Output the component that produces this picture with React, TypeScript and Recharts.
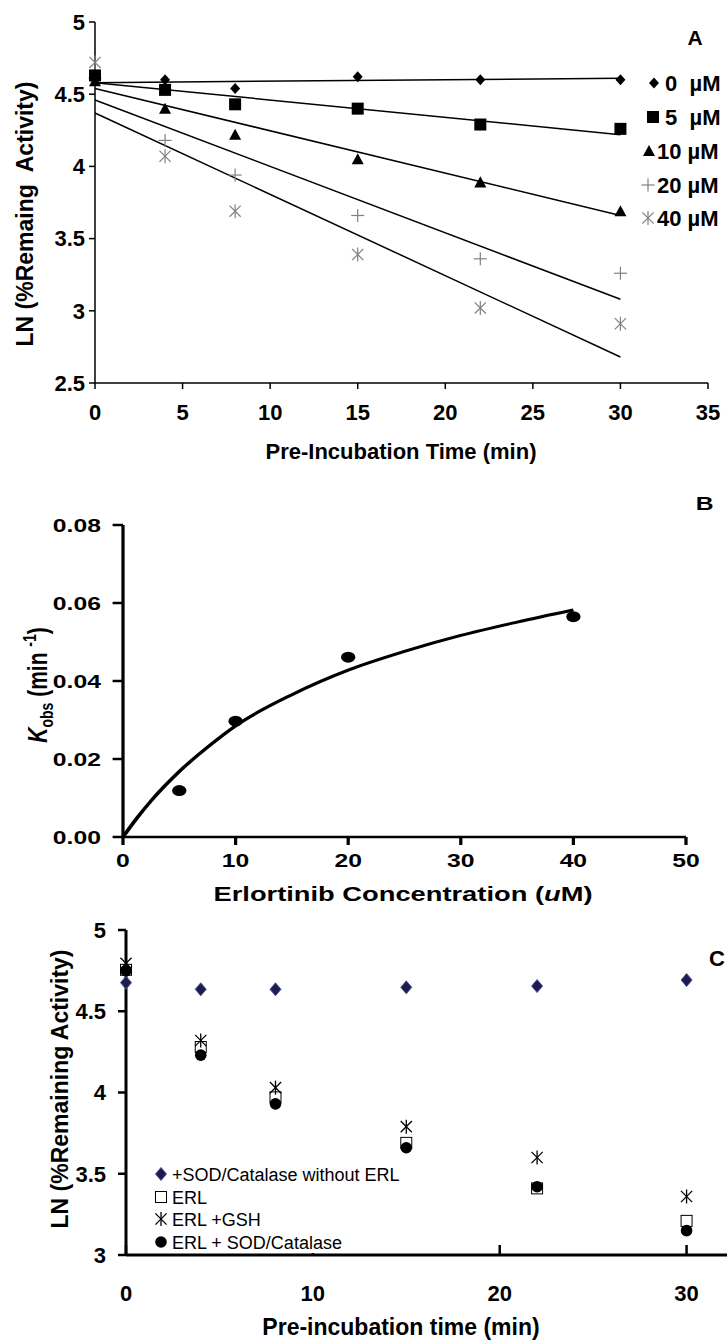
import React from 'react';
import { ComposedChart, Label, Line, Scatter, XAxis, YAxis } from 'recharts';

const FONT = '"Liberation Sans", Arial, Helvetica, sans-serif';

// Panel A: LN(% remaining activity) vs pre-incubation time, per erlotinib concentration
const timeA = [0, 4, 8, 15, 22, 30];
const act0uM = [4.6, 4.6, 4.54, 4.62, 4.6, 4.6];
const act5uM = [4.63, 4.53, 4.43, 4.4, 4.29, 4.26];
const act10uM = [4.59, 4.4, 4.22, 4.05, 3.89, 3.69];
const act20uM = [4.61, 4.18, 3.94, 3.66, 3.36, 3.26];
const act40uM = [4.72, 4.07, 3.69, 3.39, 3.02, 2.91];

// regression lines (ends)
const fitTimeA = [0, 30];
const fit0uM = [4.58, 4.61];
const fit5uM = [4.58, 4.22];
const fit10uM = [4.54, 3.66];
const fit20uM = [4.46, 3.08];
const fit40uM = [4.37, 2.68];

const ticksAx = [0, 5, 10, 15, 20, 25, 30, 35];
const ticksAy = [2.5, 3, 3.5, 4, 4.5, 5];
const legendA = ['0  µM', '5  µM', '10 µM', '20 µM', '40 µM'];

// Panel B: kobs vs erlotinib concentration
const concB = [5, 10, 20, 40];
const kobsB = [0.0119, 0.0297, 0.0461, 0.0565];
const curveConcB = [0, 1.25, 2.5, 5, 7.5, 10, 15, 20, 25, 30, 35, 40];
const curveKobsB = [0, 0.0049, 0.0093, 0.0168, 0.023, 0.0285, 0.0365, 0.0428, 0.0476, 0.0517, 0.0551, 0.0582];
const ticksBx = [0, 10, 20, 30, 40, 50];
const ticksBy = [0, 0.02, 0.04, 0.06, 0.08];

// Panel C: effect of GSH / SOD-catalase
const timeC = [0, 4, 8, 15, 22, 30];
const sodNoErl = [4.676, 4.635, 4.635, 4.647, 4.655, 4.692];
const erl = [4.755, 4.28, 3.97, 3.69, 3.41, 3.21];
const erlGsh = [4.795, 4.32, 4.03, 3.79, 3.6, 3.36];
const erlSod = [4.75, 4.23, 3.93, 3.66, 3.42, 3.15];
const ticksCx = [0, 10, 20, 30];
const ticksCy = [3, 3.5, 4, 4.5, 5];
const legendC = ['+SOD/Catalase without ERL', 'ERL', 'ERL +GSH', 'ERL + SOD/Catalase'];

const pts = (xs: number[], ys: number[]) => xs.map((x, i) => ({ x, y: ys[i] }));

const GRAY = '#808080';
const NAVY = '#1c1c4e';

// marker drawing
const diamond = (cx: number, cy: number, w: number, h: number, fill: string, stroke = 'none') => (
  <polygon points={`${cx},${cy - h} ${cx + w},${cy} ${cx},${cy + h} ${cx - w},${cy}`} fill={fill} stroke={stroke} />
);
const square = (cx: number, cy: number, s: number, fill: string, stroke = 'none') => (
  <rect x={cx - s} y={cy - s} width={s * 2} height={s * 2} fill={fill} stroke={stroke} />
);
const triangle = (cx: number, cy: number, s: number) => (
  <polygon points={`${cx},${cy - s} ${cx + s},${cy + s * 0.85} ${cx - s},${cy + s * 0.85}`} fill="#000" />
);
const plus = (cx: number, cy: number, s: number, color: string) => (
  <g stroke={color} strokeWidth={1.2}>
    <line x1={cx - s} x2={cx + s} y1={cy} y2={cy} />
    <line x1={cx} x2={cx} y1={cy - s} y2={cy + s} />
  </g>
);
const star = (cx: number, cy: number, s: number, color: string, w = 1.2) => (
  <g stroke={color} strokeWidth={w}>
    <line x1={cx - s * 0.8} x2={cx + s * 0.8} y1={cy - s * 0.8} y2={cy + s * 0.8} />
    <line x1={cx - s * 0.8} x2={cx + s * 0.8} y1={cy + s * 0.8} y2={cy - s * 0.8} />
    <line x1={cx} x2={cx} y1={cy - s} y2={cy + s} />
  </g>
);

const tickStyle = (size: number) => ({ fill: '#000', fontSize: size, fontWeight: 700, fontFamily: FONT });
const titleStyle = (size: number, weight = 700): React.CSSProperties => ({
  fontSize: size,
  fontWeight: weight,
  fontFamily: FONT,
  fill: '#000',
  whiteSpace: 'pre',
});

const PanelA = () => {
  const axis = { stroke: '#000', strokeWidth: 1.5 };
  const markersA = [
    (cx: number, cy: number) => diamond(cx, cy, 5, 5.5, '#000'),
    (cx: number, cy: number) => square(cx, cy, 6, '#000'),
    (cx: number, cy: number) => triangle(cx, cy, 6),
    (cx: number, cy: number) => plus(cx, cy, 6.5, GRAY),
    (cx: number, cy: number) => star(cx, cy, 7, GRAY),
  ];
  const legendY = [83, 117, 151, 185, 218];
  const legendMarkX = [654, 653, 649, 648, 648];
  const legendTextX = [665, 665, 657, 657, 657];
  return (
    <div style={{ position: 'absolute', left: 0, top: 0, width: 727, height: 470 }}>
      <ComposedChart width={727} height={470} margin={{ top: 22, right: 19, bottom: 0, left: 0 }}>
        <XAxis
          type="number"
          dataKey="x"
          domain={[0, 35]}
          ticks={ticksAx}
          interval={0}
          height={87}
          tickSize={6}
          tickMargin={15}
          axisLine={axis}
          tickLine={axis}
          tick={tickStyle(22)}
        >
          <Label
            content={() => (
              <text x={401} y={459} textAnchor="middle" style={titleStyle(22)}>
                Pre-Incubation Time (min)
              </text>
            )}
          />
        </XAxis>
        <YAxis
          type="number"
          dataKey="y"
          domain={[2.5, 5]}
          ticks={ticksAy}
          interval={0}
          width={95}
          tickSize={6}
          tickMargin={4}
          axisLine={axis}
          tickLine={axis}
          tick={tickStyle(22)}
        >
          <Label
            content={() => (
              <text transform="translate(25,214) rotate(-90)" y={8} textAnchor="middle" style={titleStyle(23)}>
                LN (%Remaing  Activity)
              </text>
            )}
          />
        </YAxis>
        {[fit0uM, fit5uM, fit10uM, fit20uM, fit40uM].map((f, i) => (
          <Line
            key={'fit' + i}
            data={pts(fitTimeA, f)}
            dataKey="y"
            type="linear"
            stroke="#000"
            strokeWidth={1.5}
            dot={false}
            activeDot={false}
            isAnimationActive={false}
          />
        ))}
        <Scatter data={pts(timeA, act40uM)} dataKey="y" isAnimationActive={false} shape={(p: any) => markersA[4](p.cx, p.cy)} />
        <Scatter data={pts(timeA, act20uM)} dataKey="y" isAnimationActive={false} shape={(p: any) => markersA[3](p.cx, p.cy)} />
        <Scatter data={pts(timeA, act10uM)} dataKey="y" isAnimationActive={false} shape={(p: any) => markersA[2](p.cx, p.cy)} />
        <Scatter data={pts(timeA, act0uM)} dataKey="y" isAnimationActive={false} shape={(p: any) => markersA[0](p.cx, p.cy)} />
        <Scatter data={pts(timeA, act5uM)} dataKey="y" isAnimationActive={false} shape={(p: any) => markersA[1](p.cx, p.cy)} />
      </ComposedChart>
      <svg width={727} height={470} style={{ position: 'absolute', left: 0, top: 0, pointerEvents: 'none' }}>
        <text x={695} y={45} textAnchor="middle" style={titleStyle(21)}>
          A
        </text>
        {legendA.map((name, i) => (
          <g key={name}>
            {markersA[i](legendMarkX[i], legendY[i])}
            <text x={legendTextX[i]} y={legendY[i] + 8} style={titleStyle(22)}>
              {name}
            </text>
          </g>
        ))}
      </svg>
    </div>
  );
};

// panel B is horizontally stretched in the source figure
const SB = 1.3;
const BW = 727 / SB;

const PanelB = () => {
  const axis = { stroke: '#000', strokeWidth: 2.5 };
  return (
    <div
      style={{
        position: 'absolute',
        left: 0,
        top: 460,
        width: BW,
        height: 470,
        transform: `scaleX(${SB})`,
        transformOrigin: '0 0',
      }}
    >
      <ComposedChart width={BW} height={470} margin={{ top: 65, right: BW - 686 / SB, bottom: 0, left: 0 }}>
        <XAxis
          type="number"
          dataKey="x"
          domain={[0, 50]}
          ticks={ticksBx}
          interval={0}
          height={93}
          tickSize={8}
          tickMargin={9}
          axisLine={axis}
          tickLine={axis}
          tick={tickStyle(19)}
        >
          <Label
            content={() => (
              <text x={310} y={441} textAnchor="middle" style={titleStyle(21)}>
                Erlortinib Concentration (<tspan fontStyle="italic">u</tspan>M)
              </text>
            )}
          />
        </XAxis>
        <YAxis
          type="number"
          dataKey="y"
          domain={[0, 0.08]}
          ticks={ticksBy}
          interval={0}
          width={123 / SB}
          tickSize={8}
          tickMargin={9}
          axisLine={axis}
          tickLine={axis}
          tick={tickStyle(19)}
          tickFormatter={(v: number) => v.toFixed(2)}
        >
          <Label
            content={() => (
              <g>
                <text transform="translate(29,225) rotate(-90)" y={7} textAnchor="middle" style={titleStyle(21)}>
                  <tspan fontStyle="italic">K</tspan>
                  <tspan fontSize={14} dy={5}>obs</tspan>
                  <tspan dy={-5}> (min </tspan>
                  <tspan fontSize={14} dy={-8}>-1</tspan>
                  <tspan dy={8}>)</tspan>
                </text>
                <text x={542} y={50} textAnchor="middle" style={titleStyle(19)}>
                  B
                </text>
              </g>
            )}
          />
        </YAxis>
        <Line
          data={pts(curveConcB, curveKobsB)}
          dataKey="y"
          type="monotone"
          stroke="#000"
          strokeWidth={3}
          dot={false}
          activeDot={false}
          isAnimationActive={false}
        />
        <Scatter
          data={pts(concB, kobsB)}
          dataKey="y"
          isAnimationActive={false}
          shape={(p: any) => <circle cx={p.cx} cy={p.cy} r={5.5} fill="#000" />}
        />
      </ComposedChart>
    </div>
  );
};

// panel C container starts 20px above its plot so the top tick label stays whole
const C_PAD = 20;
const CX_AXIS_Y = 325 + C_PAD;

const PanelC = () => {
  const axis = { stroke: '#000', strokeWidth: 3 };
  const markersC = [
    (cx: number, cy: number) => diamond(cx, cy, 5.5, 6.5, NAVY, '#50509a'),
    (cx: number, cy: number) => square(cx, cy, 5.5, '#fff', '#000'),
    (cx: number, cy: number) => star(cx, cy, 7, '#000', 1.3),
    (cx: number, cy: number) => <circle cx={cx} cy={cy} r={5.8} fill="#000" />,
  ];
  const legendY = [244, 267, 289, 312].map((v) => v + C_PAD);
  const xTick = (p: any) => (
    <g>
      <line x1={p.x} x2={p.x} y1={CX_AXIS_Y} y2={CX_AXIS_Y - 10} stroke="#000" strokeWidth={2.5} />
      <text x={p.x} y={CX_AXIS_Y + 46} textAnchor="middle" style={titleStyle(22)}>
        {p.payload.value}
      </text>
    </g>
  );
  return (
    <div style={{ position: 'absolute', left: 0, top: 930 - C_PAD, width: 727, height: 410 + C_PAD, overflow: 'hidden' }}>
      <ComposedChart width={790} height={410 + C_PAD} margin={{ top: C_PAD, right: 10, bottom: 0, left: 0 }}>
        <XAxis
          type="number"
          dataKey="x"
          domain={[0, 35]}
          ticks={ticksCx}
          interval={0}
          height={85}
          axisLine={axis}
          tickLine={false}
          tick={xTick}
        >
          <Label
            content={() => (
              <text x={401} y={405 + C_PAD} textAnchor="middle" style={titleStyle(23)}>
                Pre-incubation time (min)
              </text>
            )}
          />
        </XAxis>
        <YAxis
          type="number"
          dataKey="y"
          domain={[3, 5]}
          ticks={ticksCy}
          interval={0}
          width={126}
          tickSize={8}
          tickMargin={12}
          axisLine={axis}
          tickLine={{ stroke: '#000', strokeWidth: 2.5 }}
          tick={tickStyle(22)}
        >
          <Label
            content={() => (
              <text transform={`translate(60,${159 + C_PAD}) rotate(-90)`} y={8} textAnchor="middle" style={titleStyle(23)}>
                LN (%Remaining Activity)
              </text>
            )}
          />
        </YAxis>
        <Scatter data={pts(timeC, sodNoErl)} dataKey="y" isAnimationActive={false} shape={(p: any) => markersC[0](p.cx, p.cy)} />
        <Scatter data={pts(timeC, erl)} dataKey="y" isAnimationActive={false} shape={(p: any) => markersC[1](p.cx, p.cy)} />
        <Scatter data={pts(timeC, erlGsh)} dataKey="y" isAnimationActive={false} shape={(p: any) => markersC[2](p.cx, p.cy)} />
        <Scatter data={pts(timeC, erlSod)} dataKey="y" isAnimationActive={false} shape={(p: any) => markersC[3](p.cx, p.cy)} />
      </ComposedChart>
      <svg width={727} height={410 + C_PAD} style={{ position: 'absolute', left: 0, top: 0, pointerEvents: 'none' }}>
        <text x={709} y={36 + C_PAD} style={titleStyle(22)}>
          C
        </text>
        <rect x={148} y={232 + C_PAD} width={262} height={91} fill="#fff" />
        {legendC.map((name, i) => (
          <g key={name}>
            {markersC[i](161, legendY[i])}
            <text x={172} y={legendY[i] + 6.5} style={titleStyle(18, 400)}>
              {name}
            </text>
          </g>
        ))}
      </svg>
    </div>
  );
};

export default function App() {
  return (
    <div
      style={{
        position: 'absolute',
        left: 0,
        top: 0,
        width: 727,
        height: 1340,
        background: '#fff',
        overflow: 'hidden',
        fontFamily: FONT,
      }}
    >
      <PanelA />
      <PanelB />
      <PanelC />
    </div>
  );
}
